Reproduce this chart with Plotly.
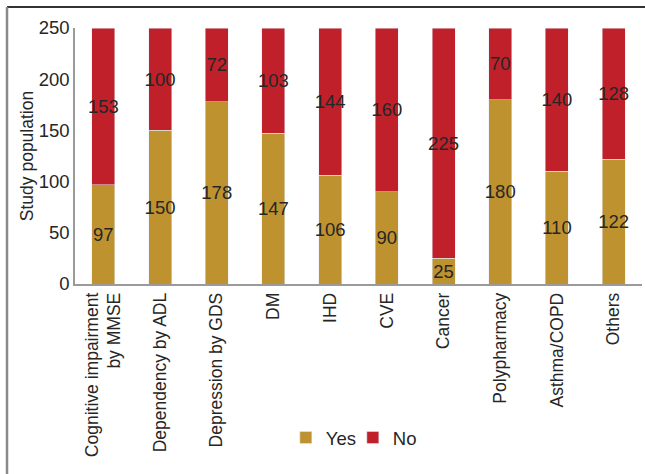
import plotly.graph_objects as go

categories = ["Cognitive impairment<br>by MMSE", "Dependency by ADL", "Depression by GDS", "DM", "IHD",
              "CVE", "Cancer", "Polypharmacy", "Asthma/COPD", "Others"]
yes_vals = [97, 150, 178, 147, 106, 90, 25, 180, 110, 122]
no_vals = [153, 100, 72, 103, 144, 160, 225, 70, 140, 128]
y_ticks = [0, 50, 100, 150, 200, 250]

YES_COLOR = "#BF9230"
NO_COLOR = "#C0202A"
FONT = "Liberation Sans, Arial, sans-serif"
TXT = "#262626"
HS = 18.5   # horizontal text size
VS = 17.5   # rotated text size

fig = go.Figure()
fig.add_trace(go.Bar(x=categories, y=yes_vals, name="Yes", marker_color=YES_COLOR,
                     text=yes_vals, textposition="inside", insidetextanchor="middle",
                     textfont=dict(color=TXT, size=HS, family=FONT), textangle=0))
fig.add_trace(go.Bar(x=categories, y=no_vals, name="No", marker_color=NO_COLOR,
                     text=no_vals, textposition="inside", insidetextanchor="middle",
                     textfont=dict(color=TXT, size=HS, family=FONT), textangle=0))

L, R, T, B = 75, 3, 28, 190
W, H = 645, 474
pw, ph = W - L - R, H - T - B

fig.update_layout(
    width=W, height=H, barmode="stack", bargap=0.594,
    margin=dict(l=L, r=R, t=T, b=B),
    paper_bgcolor="white", plot_bgcolor="white",
    font=dict(family=FONT, size=HS, color=TXT),
    uniformtext=dict(minsize=HS, mode="show"),
    showlegend=True,
    legend=dict(orientation="h", x=0.49, xanchor="center", y=(284 - 438) / ph, yanchor="middle",
                font=dict(size=HS, color=TXT), itemwidth=30, traceorder="normal",
                entrywidth=22, entrywidthmode="pixels"),
    xaxis=dict(showline=True, linecolor="#9A9A9A", linewidth=1.5, ticks="", tickangle=-90,
               showgrid=False, tickfont=dict(size=VS, color=TXT)),
    yaxis=dict(range=[0, 250], tickvals=y_ticks, showline=True, linecolor="#9A9A9A", linewidth=1.5,
               ticks="", showgrid=False, zeroline=False, tickfont=dict(size=HS, color=TXT),
               title=dict(text="Study population", font=dict(size=VS, color=TXT), standoff=1)),
)

# outer frame (top and left edges visible)
x_left = (7 - L) / pw
y_top = (T + ph - 7) / ph
y_bot = (T + ph - H - 5) / ph
x_right = (W + 5 - L) / pw
fig.add_shape(type="line", xref="paper", yref="paper", x0=x_left, x1=x_right, y0=y_top, y1=y_top,
              line=dict(color="#333333", width=2))
fig.add_shape(type="line", xref="paper", yref="paper", x0=x_left, x1=x_left, y0=y_top, y1=y_bot,
              line=dict(color="#8A8A8A", width=2.5))

fig.write_html("out.html")
